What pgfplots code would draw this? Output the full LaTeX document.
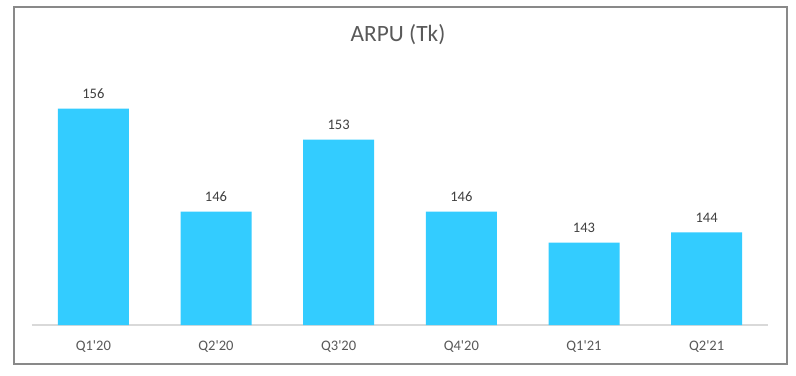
\documentclass[border=0pt]{standalone}
\usepackage{pgfplots}
\pgfplotsset{compat=1.18}
\usepackage{fontspec}
\setmainfont{Carlito}
\definecolor{barc}{HTML}{33CCFF}
\definecolor{basec}{HTML}{D9D9D9}
\definecolor{framec}{HTML}{898989}
\definecolor{titlec}{HTML}{595959}
\definecolor{valc}{HTML}{404040}
\newcommand{\q}{\textquotesingle}
\begin{document}
\begin{tikzpicture}
\path[use as bounding box, fill=white] (0,0) rectangle (597pt,281.25pt);
\draw[framec, line width=0.9pt] (10.5pt,8.25pt) rectangle (590.25pt,276pt);
\node[text=titlec, font=\fontsize{17.5pt}{20pt}\selectfont] at (298.5pt,255pt) {ARPU (Tk)};
\begin{axis}[
  at={(24pt,37.5pt)}, anchor=south west,
  scale only axis, width=552pt, height=193.1pt,
  xmin=-0.5, xmax=5.5, ymin=135, ymax=160,
  axis x line=bottom, hide y axis,
  axis line style={-, draw=basec, line width=0.8pt},
  xtick=data,
  xticklabels={Q1\q20,Q2\q20,Q3\q20,Q4\q20,Q1\q21,Q2\q21},
  xtick style={draw=none},
  xticklabel style={text=titlec, font=\fontsize{10.9pt}{13pt}\selectfont, yshift=-4pt},
  /pgf/number format/assume math mode=true,
  ybar, bar width=53.25pt,
  nodes near coords,
  nodes near coords style={text=valc, font=\fontsize{10.9pt}{13pt}\selectfont, anchor=south, yshift=4pt},
  clip=false,
]
\addplot[fill=barc, draw=none, bar shift=0pt] coordinates {(0,156) (1,146) (2,153) (3,146) (4,143) (5,144)};
\end{axis}
\end{tikzpicture}
\end{document}
